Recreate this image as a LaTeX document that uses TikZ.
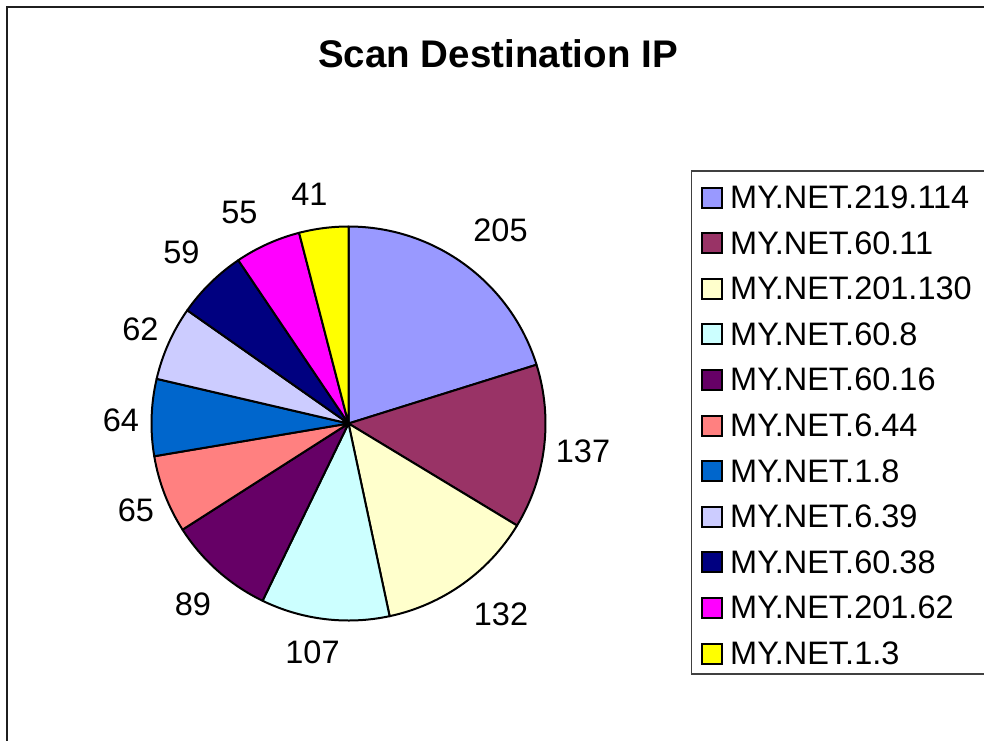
\documentclass[tikz,border=0pt]{standalone}
\usepackage{fontspec}
\setmainfont{Liberation Sans}
\definecolor{s1}{HTML}{9999FF}
\definecolor{s2}{HTML}{993366}
\definecolor{s3}{HTML}{FFFFCC}
\definecolor{s4}{HTML}{CCFFFF}
\definecolor{s5}{HTML}{660066}
\definecolor{s6}{HTML}{FF8080}
\definecolor{s7}{HTML}{0066CC}
\definecolor{s8}{HTML}{CCCCFF}
\definecolor{s9}{HTML}{000080}
\definecolor{s10}{HTML}{FF00FF}
\definecolor{s11}{HTML}{FFFF00}
\begin{document}
\begin{tikzpicture}[x=1pt,y=1pt,
  lbl/.style={font=\fontsize{32.5}{38}\selectfont, inner sep=0pt, anchor=base},
  legtext/.style={font=\fontsize{32.5}{38}\selectfont, inner sep=0pt, anchor=base west},
  swatch/.style={draw=black, line width=2pt, minimum width=20pt, minimum height=20pt, inner sep=0pt},
  slice/.style={draw=black, line width=2pt, line join=round},
  frameline/.style={draw=black!88, line width=2.5pt}]
\useasboundingbox (0,0) rectangle (984,-740);
% outer chart frame
\draw[frameline] (7,-741) -- (7,-7) -- (985,-7);
% title
\node[font=\bfseries\fontsize{38.5}{44}\selectfont, inner sep=0pt, anchor=base] (title) at (498,-67.7) {Scan Destination IP};
% pie
\coordinate (C) at (348.5,-423.5);
\foreach \a/\b/\c in {90/17.362/s1, 17.362/-31.181/s2, -31.181/-77.953/s3, -77.953/-115.866/s4, -115.866/-147.402/s5, -147.402/-170.433/s6, -170.433/-193.110/s7, -193.110/-215.079/s8, -215.079/-235.984/s9, -235.984/-255.472/s10, -255.472/-270/s11}{
  \filldraw[slice, fill=\c] (C) -- ++(\a:197) arc[start angle=\a, end angle=\b, radius=197] -- cycle;
}
% data labels
\node[lbl] (l205) at (500.5,-241.7) {205};
\node[lbl] (l137) at (583,-462) {137};
\node[lbl] (l132) at (501,-625) {132};
\node[lbl] (l107) at (312.5,-663) {107};
\node[lbl] (l89) at (193,-615) {89};
\node[lbl] (l65) at (136,-521.7) {65};
\node[lbl] (l64) at (121,-431.7) {64};
\node[lbl] (l62) at (140.5,-340) {62};
\node[lbl] (l59) at (181.5,-263) {59};
\node[lbl] (l55) at (239.5,-223) {55};
\node[lbl] (l41) at (309.5,-205) {41};
% legend box
\draw[draw=black!75, line width=1.3pt] (986,-674) -- (691.7,-674) -- (691.7,-171) -- (986,-171);
\foreach \i/\c/\t in {0/s1/MY.NET.219.114, 1/s2/MY.NET.60.11, 2/s3/MY.NET.201.130, 3/s4/MY.NET.60.8, 4/s5/MY.NET.60.16, 5/s6/MY.NET.6.44, 6/s7/MY.NET.1.8, 7/s8/MY.NET.6.39, 8/s9/MY.NET.60.38, 9/s10/MY.NET.201.62, 10/s11/MY.NET.1.3}{
  \node[swatch, fill=\c] (sw\i) at (712,{-(197.5+45.6*\i)}) {};
  \node[legtext] (lt\i) at (730,{-(208.4+45.6*\i)}) {\t};
}
\end{tikzpicture}
\end{document}
